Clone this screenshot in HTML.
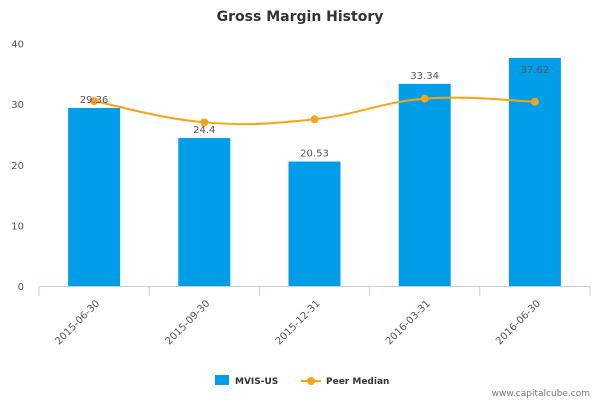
<!DOCTYPE html>
<html><head><meta charset="utf-8"><style>
body{margin:0;background:#fff;font-family:"Liberation Sans","DejaVu Sans",sans-serif}
svg text{font-family:"DejaVu Sans","Liberation Sans",sans-serif}
</style></head><body>
<svg id="chart" width="600" height="400" xmlns="http://www.w3.org/2000/svg">
<text x="300" y="21" text-anchor="middle" font-size="14" font-weight="bold" fill="#333">Gross Margin History</text>
<g id="grid"></g><g id="bars"></g><g id="line"></g><g id="labels"></g>
<g>
<rect x="215" y="375" width="14" height="10" fill="#009ee8"/>
<text x="235" y="384" font-size="9" font-weight="bold" fill="#333">MVIS-US</text>
<line x1="301" y1="381" x2="321" y2="381" stroke="#f8a21a" stroke-width="2"/>
<circle cx="311" cy="381" r="4" fill="#f8a21a"/>
<text x="326" y="384" font-size="9" font-weight="bold" fill="#333">Peer Median</text>
</g>
<text x="590" y="396" text-anchor="end" font-size="9" fill="#777">www.capitalcube.com</text>
</svg>
<script>
const categories=["2015-06-30","2015-09-30","2015-12-31","2016-03-31","2016-06-30"];
const mvis=[29.36,24.4,20.53,33.34,37.62];
const peer=[30.5,27.0,27.5,30.9,30.4];
const yTicks=[0,10,20,30,40];
const NS="http://www.w3.org/2000/svg";
const x0=39,x1=590,y0=286,yTop=43.5,yMax=40;
const bw=(x1-x0)/categories.length;
const xs=i=>x0+bw*(i+0.5);
const ys=v=>y0-(v/yMax)*(y0-yTop);
function mk(tag,attrs,parent,txt){const e=document.createElementNS(NS,tag);for(const k in attrs)e.setAttribute(k,attrs[k]);if(txt!=null)e.textContent=txt;document.getElementById(parent).appendChild(e);return e;}
yTicks.forEach(t=>{
 const e=mk("text",{x:24,y:ys(t)+4,"text-anchor":"end","font-size":"10",fill:"#555"},"grid",t);
 
 
});
const ax=mk("line",{x1:x0,y1:y0+0.5,x2:x1,y2:y0+0.5,stroke:"#c0d0e0"},"grid");


for(let i=0;i<=categories.length;i++){
 const t=mk("line",{x1:x0+bw*i,y1:y0,x2:x0+bw*i,y2:y0+10,stroke:"#c0d0e0"},"grid");
 
 
}
categories.forEach((c,i)=>{
 const cx=xs(i);
 const l=mk("text",{x:cx+6,y:y0+18,"text-anchor":"end","font-size":"10",fill:"#555",transform:`rotate(-45 ${cx+6} ${y0+18})`},"grid",c);
 
 
 const b=mk("rect",{x:cx-26,y:ys(mvis[i]),width:52,height:y0-ys(mvis[i]),fill:"#009ee8"},"bars");
 
 
 const inside=ys(mvis[i])<60;
 const vl=mk("text",{x:cx,y:inside?ys(mvis[i])+15:ys(mvis[i])-5,"text-anchor":"middle","font-size":"10",fill:"#555"},"labels",mvis[i]);
 
 
});
const pts=peer.map((v,i)=>[xs(i),ys(v)]);
let d=`M${pts[0][0]},${pts[0][1]}`;
for(let i=0;i<pts.length-1;i++){
 const p0=pts[Math.max(i-1,0)],p1=pts[i],p2=pts[i+1],p3=pts[Math.min(i+2,pts.length-1)];
 const t=0.2;
 d+=` C${p1[0]+(p2[0]-p0[0])*t},${p1[1]+(p2[1]-p0[1])*t} ${p2[0]-(p3[0]-p1[0])*t},${p2[1]-(p3[1]-p1[1])*t} ${p2[0]},${p2[1]}`;
}
const ln=mk("path",{d:d,fill:"none",stroke:"#f8a21a","stroke-width":"2"},"line");


pts.forEach(p=>{
 const c=mk("circle",{cx:p[0],cy:p[1],r:4,fill:"#f8a21a"},"line");
 
 
});
</script>
</body></html>
